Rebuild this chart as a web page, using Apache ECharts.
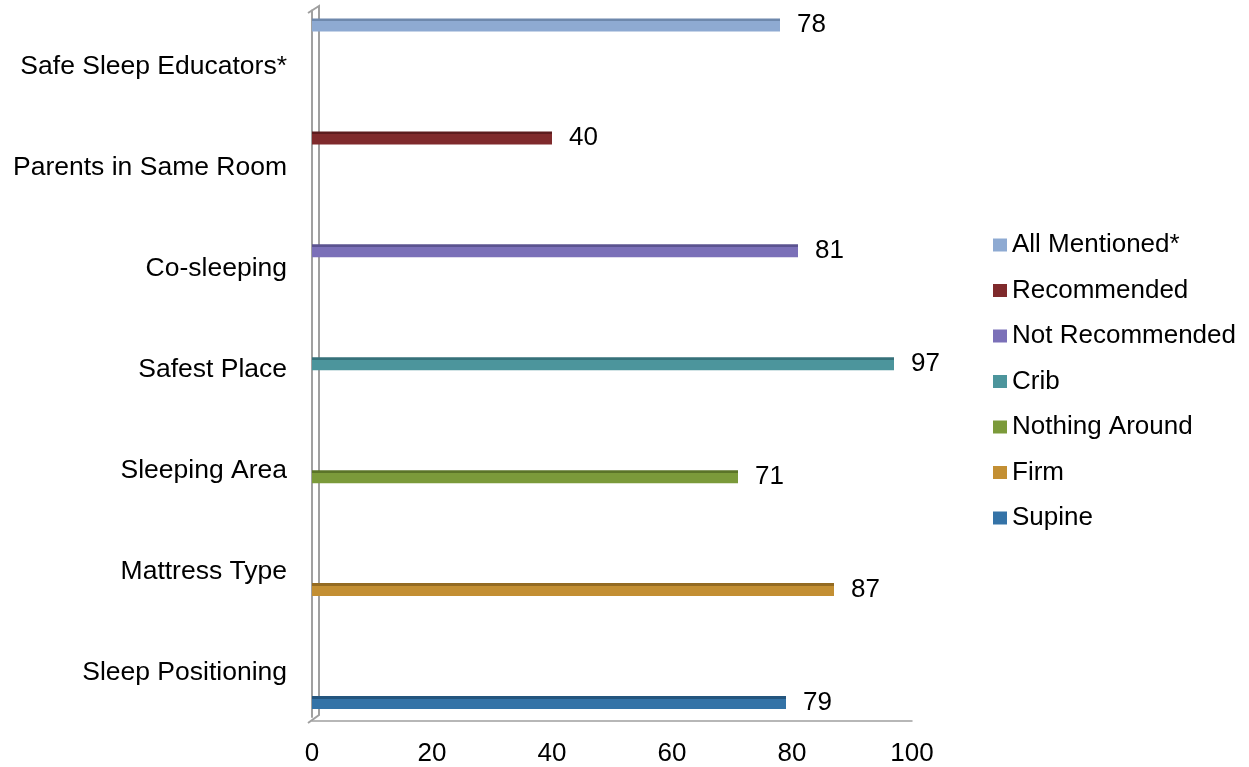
<!DOCTYPE html>
<html>
<head>
<meta charset="utf-8">
<script src="https://cdn.jsdelivr.net/npm/echarts@6/dist/echarts.min.js"></script>
<style>html,body{margin:0;padding:0;background:#fff;}#chart{width:1249px;height:767px;}</style>
</head>
<body>
<div id="chart"></div>
<script>
// Categories, bottom to top
const categories = ['Sleep Positioning', 'Mattress Type', 'Sleeping Area', 'Safest Place', 'Co-sleeping', 'Parents in Same Room', 'Safe Sleep Educators*'];
// One series per category (same order as categories)
const seriesNames = ['Supine', 'Firm', 'Nothing Around', 'Crib', 'Not Recommended', 'Recommended', 'All Mentioned*'];
const values = [79, 87, 71, 97, 81, 40, 78];
const xTicks = [0, 20, 40, 60, 80, 100];
const mainColors = ['#3473A7', '#C38F33', '#7B9A3A', '#4C959C', '#7B70B8', '#7F2A2C', '#8EAAD2'];
const topColors  = ['#24557E', '#946B22', '#5B7428', '#36717A', '#5B5390', '#5C1C1E', '#6E88AC'];

const FONT = 'Liberation Sans, Arial, sans-serif';
const FS = 26;
const FS_CAT = 26.5;

function grad(top, main) {
  return { type: 'linear', x: 0, y: 0, x2: 0, y2: 1, colorStops: [
    { offset: 0, color: top }, { offset: 0.2, color: top },
    { offset: 0.21, color: main }, { offset: 1, color: main } ] };
}

// Series order: top of group first (legend order top to bottom)
const order = seriesNames.map((_, i) => i).reverse();
const series = order.map(i => ({
  name: seriesNames[i],
  type: 'bar',
  barWidth: 13,
  barGap: '-7.7%',
  data: categories.map((c, j) => (j === i ? values[i] : null)),
  itemStyle: { color: grad(topColors[i], mainColors[i]) },
  label: { show: true, position: 'right', distance: 17, color: '#000', fontFamily: FONT, fontSize: FS },
  emphasis: { disabled: true }
}));

const chart = echarts.init(document.getElementById('chart'), null, { renderer: 'canvas' });
chart.setOption({
  backgroundColor: '#fff',
  animation: false,
  grid: { left: 312, right: 337, top: 10.5, bottom: 48.5, containLabel: false },
  legend: {
    orient: 'vertical', left: 988, top: 227,
    padding: 5,
    itemWidth: 14, itemHeight: 13, itemGap: 19.5,
    icon: 'rect',
    textStyle: { color: '#000', fontFamily: FONT, fontSize: FS, lineHeight: 26 },
    data: order.map(i => ({ name: seriesNames[i], itemStyle: { color: mainColors[i] } }))
  },
  xAxis: {
    type: 'value', min: xTicks[0], max: xTicks[xTicks.length - 1], interval: 20,
    offset: 4,
    axisLine: { show: true, lineStyle: { color: '#A0A0A0', width: 1.5 } },
    axisTick: { show: false },
    splitLine: { show: false },
    axisLabel: { color: '#000', fontFamily: FONT, fontSize: FS, margin: 20 }
  },
  yAxis: {
    type: 'category', data: categories, offset: 4,
    axisLine: { show: true, lineStyle: { color: '#A0A0A0', width: 2 } },
    axisTick: { show: false },
    axisLabel: { color: '#000', fontFamily: FONT, fontSize: FS_CAT, margin: 21, verticalAlign: 'top', lineHeight: 12 }
  },
  graphic: [
    { type: 'polyline', silent: true, z: 0,
      shape: { points: [[308, 13], [319, 6], [319, 715], [308, 723]] },
      style: { stroke: '#A0A0A0', lineWidth: 2, fill: null } }
  ],
  series: series
});
</script>
</body>
</html>
